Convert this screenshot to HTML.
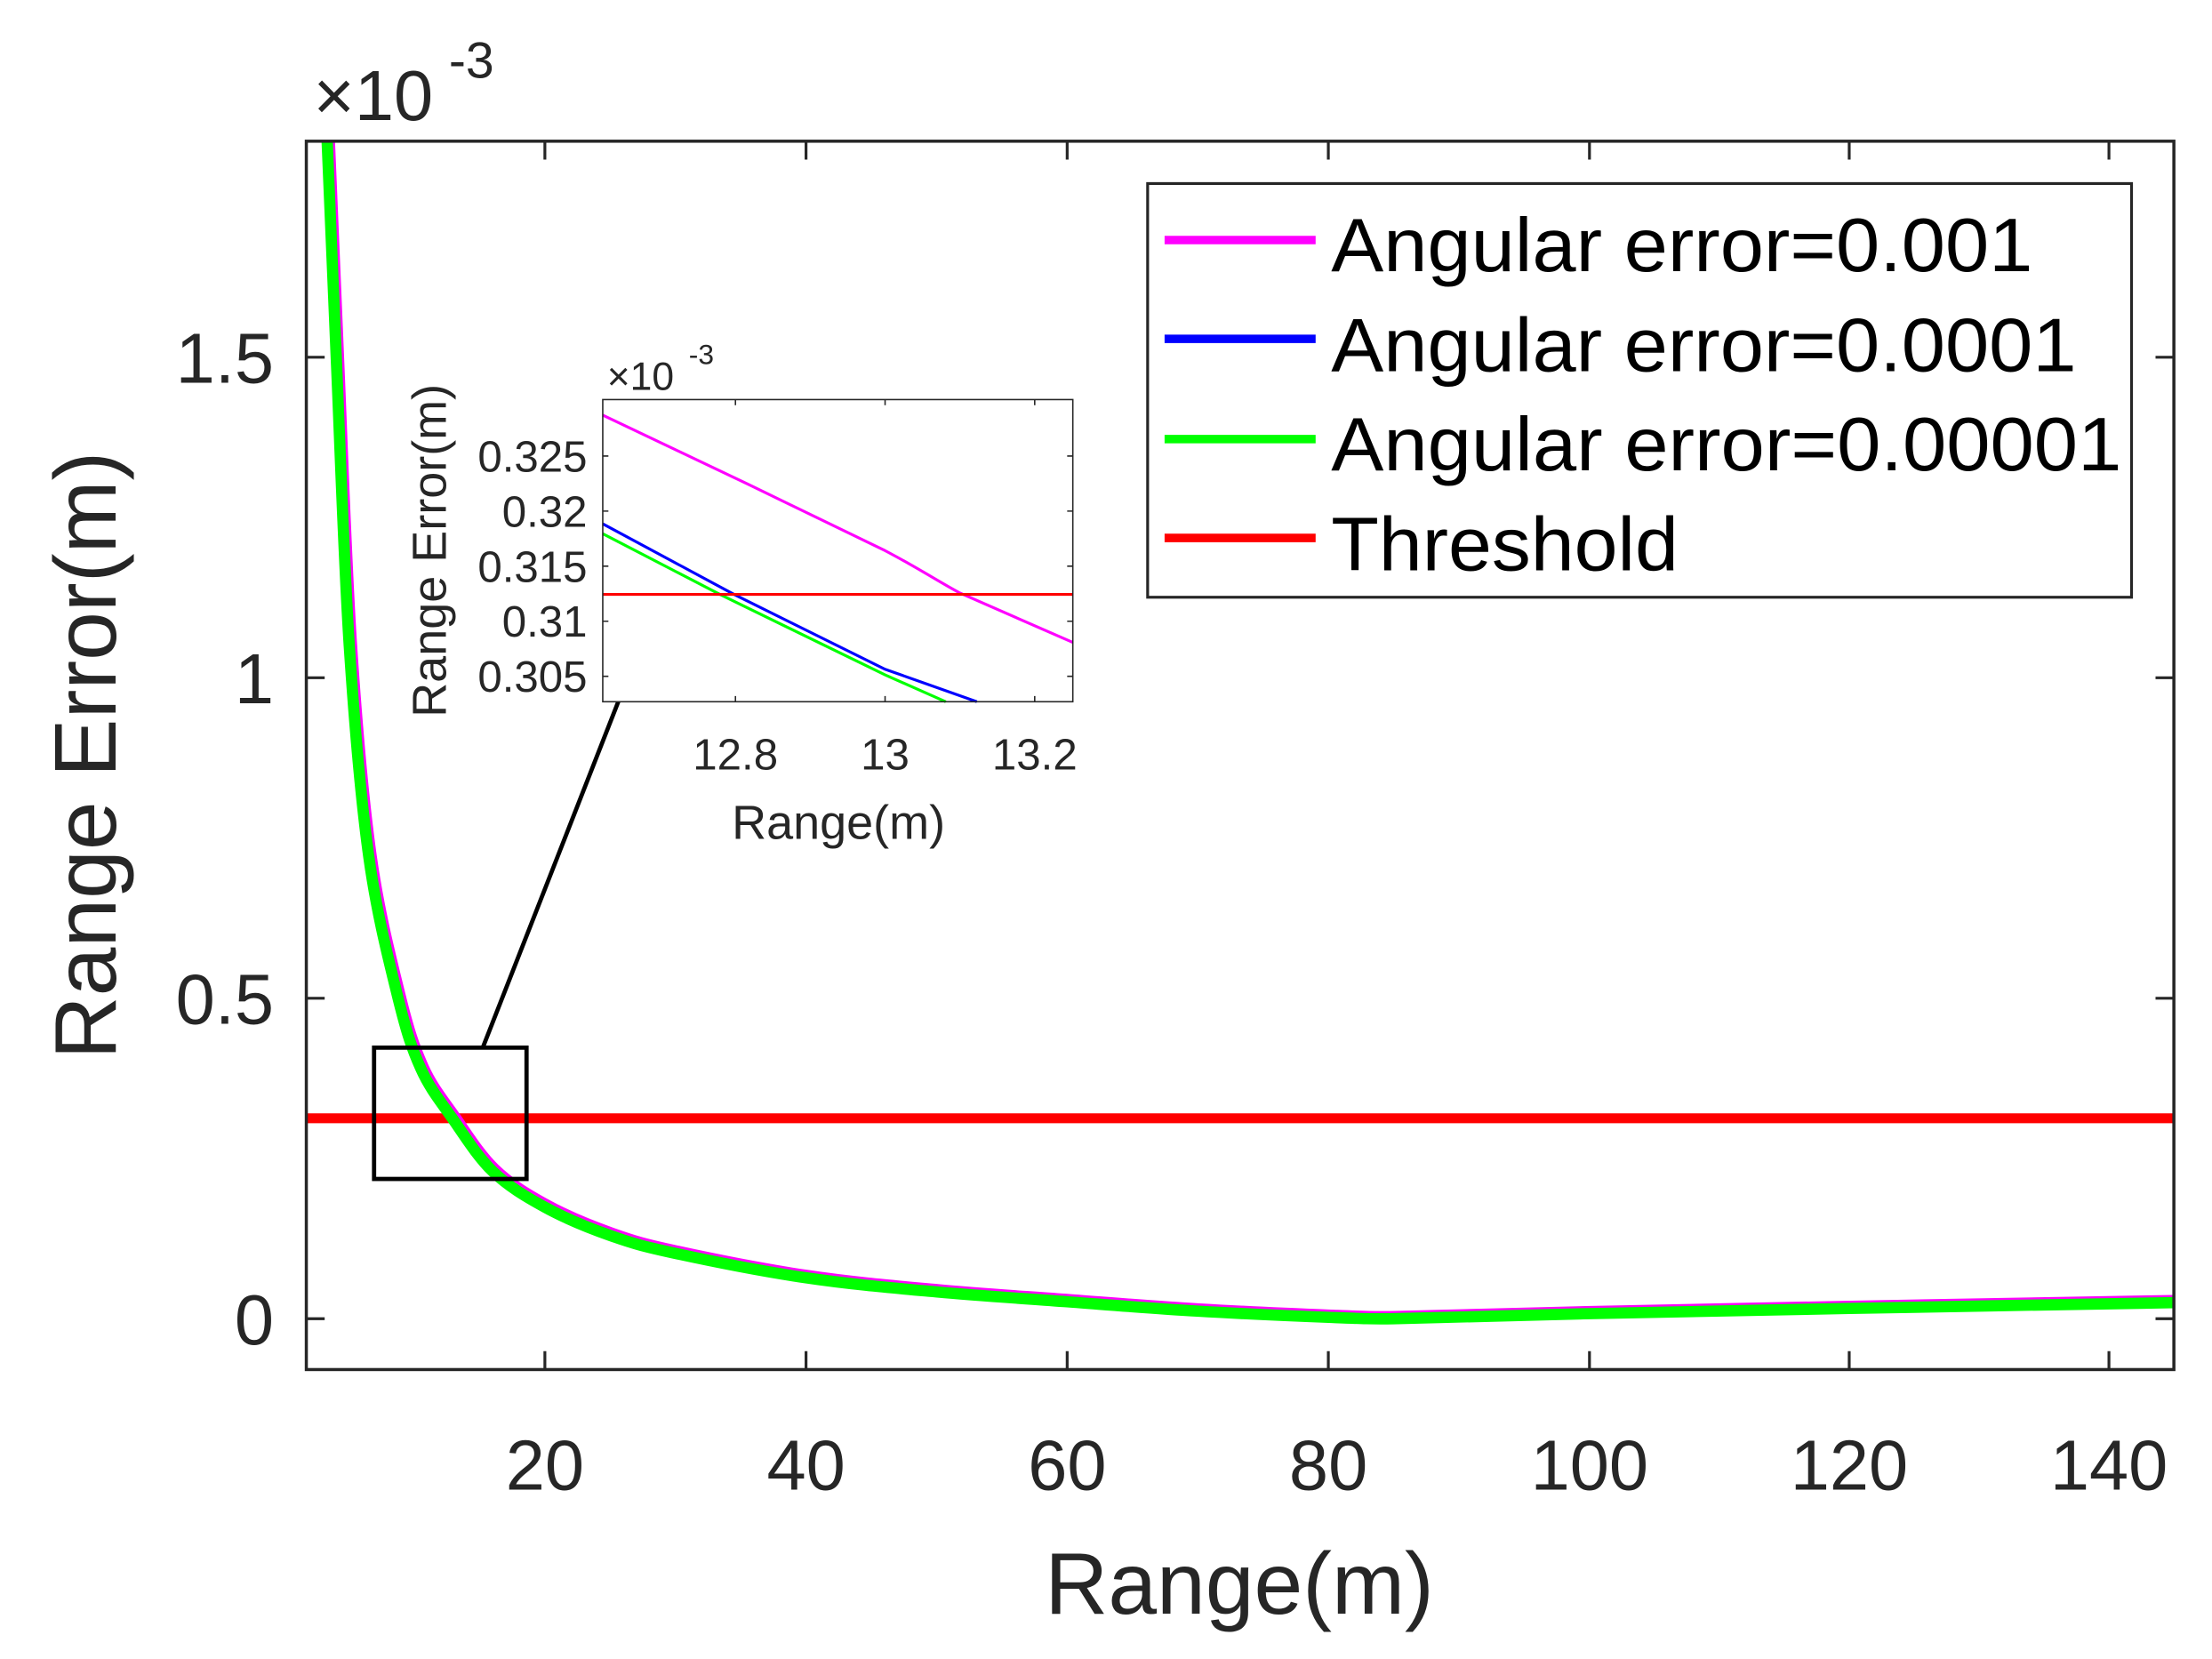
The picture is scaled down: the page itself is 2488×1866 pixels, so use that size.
<!DOCTYPE html>
<html><head><meta charset="utf-8"><style>html,body{margin:0;padding:0;background:#fff}svg{display:block}</style></head>
<body>
<svg width="2488" height="1866" viewBox="0 0 1567 1175" preserveAspectRatio="none" xmlns="http://www.w3.org/2000/svg" font-family="Liberation Sans, Arial, sans-serif">
<defs><clipPath id="ax"><rect x="217" y="100" width="1323" height="870"/></clipPath></defs>
<rect width="1567" height="1175" fill="#fff"/>
<line x1="217" y1="792" x2="1540" y2="792" stroke="#ff0000" stroke-width="7"/>
<g fill="none" stroke-linejoin="round" stroke-linecap="butt" clip-path="url(#ax)">
<path transform="translate(1.5,-1.5)" stroke="#ff00ff" stroke-width="8" d="M231.7,98.6 C233.2,134.1 235.6,193.3 238.2,253 C240.8,312.7 243.6,398 247.4,457 C251.3,516 255.5,565.3 261.3,607 C267.1,648.7 275.9,682 282,707 C288.2,732 291.8,742.8 298.2,757 C304.6,771.2 311.9,779.9 320.4,792 C328.9,804.1 338.1,819.1 349,829.6 C359.9,840.1 372.1,847.4 386,855 C399.9,862.6 416.8,869.6 432.2,875 C447.6,880.5 455.3,882.7 478.4,887.7 C501.5,892.7 540.2,900.5 571,905 C601.8,909.6 632.4,912.2 663.2,915 C694,917.8 725.2,919.7 756,922 C786.8,924.3 817.2,926.8 848,928.6 C878.8,930.4 917.8,932.1 941,933 C964.2,933.9 970,934.2 987,934 C1017.8,933.6 1072.2,931.6 1126,930.4 C1179.8,929.2 1240.8,928 1310,926.7 C1379.2,925.4 1499.3,923.3 1541,922.6"/>
<path stroke="#00ff00" stroke-width="8" d="M231.7,98.6 C233.2,134.1 235.6,193.3 238.2,253 C240.8,312.7 243.6,398 247.4,457 C251.3,516 255.5,565.3 261.3,607 C267.1,648.7 275.9,682 282,707 C288.2,732 291.8,742.8 298.2,757 C304.6,771.2 311.9,779.9 320.4,792 C328.9,804.1 338.1,819.1 349,829.6 C359.9,840.1 372.1,847.4 386,855 C399.9,862.6 416.8,869.6 432.2,875 C447.6,880.5 455.3,882.7 478.4,887.7 C501.5,892.7 540.2,900.5 571,905 C601.8,909.6 632.4,912.2 663.2,915 C694,917.8 725.2,919.7 756,922 C786.8,924.3 817.2,926.8 848,928.6 C878.8,930.4 917.8,932.1 941,933 C964.2,933.9 970,934.2 987,934 C1017.8,933.6 1072.2,931.6 1126,930.4 C1179.8,929.2 1240.8,928 1310,926.7 C1379.2,925.4 1499.3,923.3 1541,922.6"/>
</g>
<rect x="217" y="100" width="1323" height="870" fill="none" stroke="#262626" stroke-width="2.2"/>
<g stroke="#262626" stroke-width="2">
<path d="M386,970v-13M571,970v-13M756,970v-13M941,970v-13M1126,970v-13M1310,970v-13M1494,970v-13"/>
<path d="M386,100v13M571,100v13M756,100v13M941,100v13M1126,100v13M1310,100v13M1494,100v13"/>
<path d="M217,934h13M217,707h13M217,480h13M217,253h13"/>
<path d="M1540,934h-13M1540,707h-13M1540,480h-13M1540,253h-13"/>
</g>
<g fill="#262626" font-size="50">
<g text-anchor="middle">
<text x="386" y="1055">20</text><text x="571" y="1055">40</text><text x="756" y="1055">60</text><text x="941" y="1055">80</text><text x="1126" y="1055">100</text><text x="1310" y="1055">120</text><text x="1494" y="1055">140</text>
</g>
<g text-anchor="end">
<text x="194" y="952">0</text><text x="194" y="725">0.5</text><text x="194" y="498">1</text><text x="194" y="271">1.5</text>
</g>
<text x="222" y="85">×10</text><text x="318" y="55" font-size="36">-3</text>
<text x="878" y="1143" text-anchor="middle" font-size="62">Range(m)</text>
<text transform="translate(82,535) rotate(-90)" text-anchor="middle" font-size="62">Range Error(m)</text>
</g>
<rect x="265" y="742" width="108" height="93" fill="none" stroke="#000" stroke-width="3"/>
<line x1="342" y1="742" x2="438" y2="497" stroke="#000" stroke-width="3"/>
<rect x="427" y="283" width="333" height="214" fill="#fff"/>
<g fill="none" stroke-width="2">
<path stroke="#ff00ff" d="M427,294 L530,343 L627,390 C650,402 665,412 680,420 L760,455"/>
<path stroke="#0000ff" d="M427,371 L520,421 L627,474 L692,497"/>
<path stroke="#00ff00" d="M427,378 L510,421 L627,478 L670,497"/>
<line x1="427" y1="421" x2="760" y2="421" stroke="#ff0000"/>
</g>
<rect x="427" y="283" width="333" height="214" fill="none" stroke="#262626" stroke-width="1"/>
<g stroke="#262626" stroke-width="1">
<path d="M521,497v-4M627,497v-4M733,497v-4M521,283v4M627,283v4M733,283v4"/>
<path d="M427,323h4M427,362h4M427,401h4M427,440h4M427,479h4M760,323h-4M760,362h-4M760,401h-4M760,440h-4M760,479h-4"/>
</g>
<g fill="#262626" font-size="31">
<g text-anchor="middle"><text x="521" y="545">12.8</text><text x="627" y="545">13</text><text x="733" y="545">13.2</text></g>
<g text-anchor="end"><text x="416" y="334">0.325</text><text x="416" y="373">0.32</text><text x="416" y="412">0.315</text><text x="416" y="451">0.31</text><text x="416" y="490">0.305</text></g>
<text x="594" y="594" text-anchor="middle" font-size="34">Range(m)</text>
<text transform="translate(316,390) rotate(-90)" text-anchor="middle" font-size="34">Range Error(m)</text>
<text x="430" y="276" font-size="28">×10</text><text x="488" y="258" font-size="20">-3</text>
</g>
<rect x="813" y="130" width="697" height="293" fill="#fff" stroke="#262626" stroke-width="2"/>
<g stroke-width="6">
<line x1="825" y1="170" x2="932" y2="170" stroke="#ff00ff"/>
<line x1="825" y1="240" x2="932" y2="240" stroke="#0000ff"/>
<line x1="825" y1="311" x2="932" y2="311" stroke="#00ff00"/>
<line x1="825" y1="381" x2="932" y2="381" stroke="#ff0000"/>
</g>
<g fill="#000" font-size="54">
<text x="943" y="192" textLength="497" lengthAdjust="spacingAndGlyphs">Angular error=0.001</text>
<text x="943" y="263" textLength="528" lengthAdjust="spacingAndGlyphs">Angular error=0.0001</text>
<text x="943" y="333" textLength="560" lengthAdjust="spacingAndGlyphs">Angular error=0.00001</text>
<text x="943" y="404" textLength="246" lengthAdjust="spacingAndGlyphs">Threshold</text>
</g>
</svg>
</body></html>
